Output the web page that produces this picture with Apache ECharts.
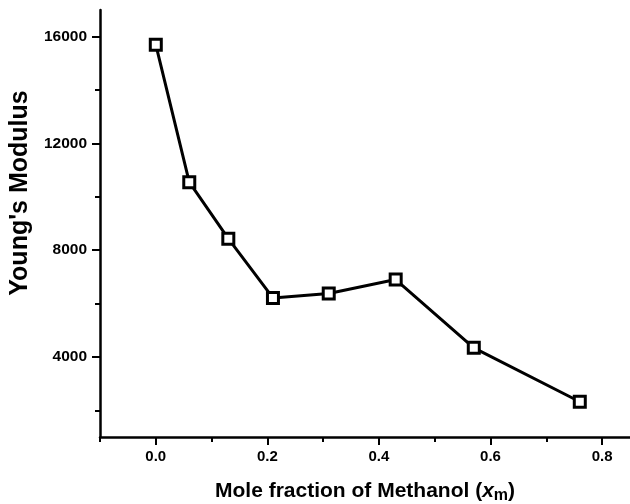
<!DOCTYPE html>
<html>
<head>
<meta charset="utf-8">
<script src="https://cdn.jsdelivr.net/npm/echarts@6/dist/echarts.min.js"></script>
<style>html,body{margin:0;padding:0;background:#fff}#c{width:630px;height:504px}</style>
</head>
<body>
<div id="c"></div>
<script>
const moleFraction = [0, 0.06, 0.13, 0.21, 0.31, 0.43, 0.57, 0.76];
const youngsModulus = [15700, 10550, 8430, 6210, 6380, 6900, 4340, 2320];
const yMajorTicks = [4000, 8000, 12000, 16000];
const yMinorTicks = [2000, 6000, 10000, 14000];
const xMajorTicks = [0, 0.2, 0.4, 0.6, 0.8];
const xMinorTicks = [-0.1, 0.1, 0.3, 0.5, 0.7];

const FONT = '"Liberation Sans", Arial, sans-serif';
const chart = echarts.init(document.getElementById('c'));
const axisLineStyle = { color: '#000', width: 2.5 };
chart.setOption({
  animation: false,
  backgroundColor: '#fff',
  grid: { left: 100, right: 0, top: 10, bottom: 67, containLabel: false, outerBoundsMode: 'none' },
  xAxis: [
    {
      type: 'value', min: -0.1, max: 0.85, position: 'bottom',
      axisLine: { show: true, onZero: false, lineStyle: axisLineStyle },
      axisTick: { show: true, customValues: xMajorTicks, length: 8, lineStyle: { color: '#000', width: 2 } },
      axisLabel: { customValues: xMajorTicks, formatter: v => v.toFixed(1), margin: 12,
        color: '#000', fontSize: 15, fontWeight: 'bold', fontFamily: FONT },
      splitLine: { show: false },
      name: '{t|Mole fraction of Methanol (}{i|x}{s|m}{t|)}',
      nameLocation: 'middle', nameGap: 42,
      nameTextStyle: {
        rich: {
          t: { fontSize: 21, fontWeight: 'bold', fontFamily: FONT, color: '#000', lineHeight: 24 },
          i: { fontSize: 21, fontWeight: 'bold', fontStyle: 'italic', fontFamily: FONT, color: '#000', lineHeight: 24 },
          s: { fontSize: 16, fontWeight: 'bold', fontFamily: FONT, color: '#000', padding: [10, 0, 0, 0], lineHeight: 24 }
        }
      }
    },
    {
      type: 'value', min: -0.1, max: 0.85, position: 'bottom',
      axisLine: { show: false, onZero: false },
      axisTick: { show: true, customValues: xMinorTicks, length: 5, lineStyle: { color: '#000', width: 2 } },
      axisLabel: { show: false },
      splitLine: { show: false }
    }
  ],
  yAxis: [
    {
      type: 'value', min: 1000, max: 17000, position: 'left',
      axisLine: { show: true, onZero: false, lineStyle: axisLineStyle },
      axisTick: { show: true, customValues: yMajorTicks, length: 8, lineStyle: { color: '#000', width: 2 } },
      axisLabel: { customValues: yMajorTicks, margin: 13, formatter: v => String(v),
        color: '#000', fontSize: 15.5, fontWeight: 'bold', fontFamily: FONT },
      splitLine: { show: false }
    },
    {
      type: 'value', min: 1000, max: 17000, position: 'left',
      axisLine: { show: false, onZero: false },
      axisTick: { show: true, customValues: yMinorTicks, length: 5, lineStyle: { color: '#000', width: 2 } },
      axisLabel: { show: false },
      splitLine: { show: false }
    }
  ],
  graphic: [{
    type: 'text', x: 20, y: 193, rotation: Math.PI / 2,
    style: { text: "Young's Modulus", fill: '#000', font: 'bold 25px ' + FONT, align: 'center', verticalAlign: 'middle' }
  }],
  series: [{
    type: 'line',
    data: moleFraction.map((x, i) => [x, youngsModulus[i]]),
    symbol: 'rect', symbolSize: 11,
    lineStyle: { color: '#000', width: 3 },
    itemStyle: { color: '#fff', borderColor: '#000', borderWidth: 3 },
    z: 5
  }]
});
</script>
</body>
</html>
